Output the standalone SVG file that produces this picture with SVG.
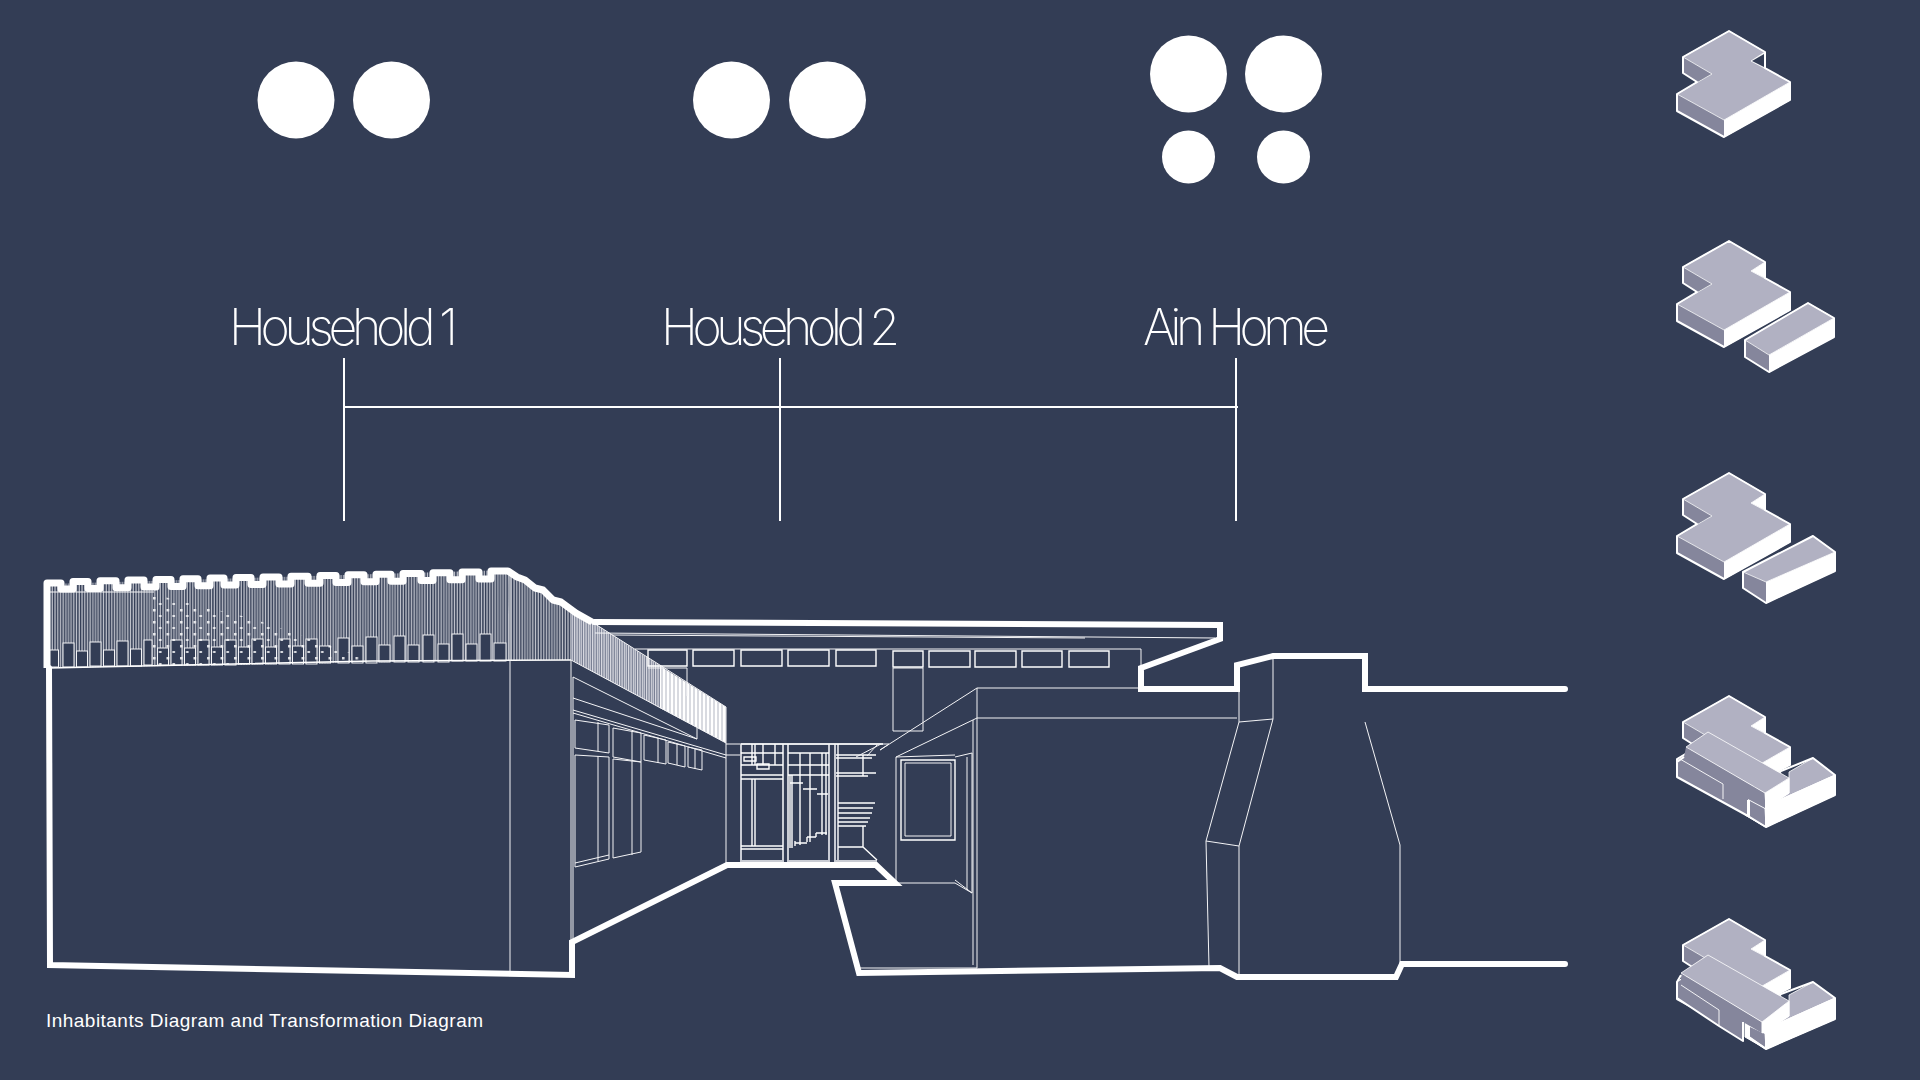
<svg xmlns="http://www.w3.org/2000/svg" width="1920" height="1080" viewBox="0 0 1920 1080">
<style>
.lbl{font-family:"Inter","Roboto","Liberation Sans",sans-serif;font-weight:200;font-size:50px;fill:#fff}
.cap{font-family:"Liberation Sans",Arial,sans-serif;font-size:19px;fill:#fff}
.thin{fill:none;stroke:#f4f4f6;stroke-width:1}
.mid{fill:none;stroke:#fff;stroke-width:1.4}
.grey{fill:none;stroke:#c9ccd4;stroke-width:2}
.tick{fill:none;stroke:#fff;stroke-width:2}
.heavy{fill:none;stroke:#fff;stroke-width:6;stroke-linejoin:miter;stroke-linecap:round}
.cren{fill:none;stroke:#fff;stroke-width:7;stroke-linejoin:round}
.win{fill:#333d55;stroke:#f4f4f6;stroke-width:1}
.top{fill:#b1b1c2;stroke:#fff;stroke-width:0.8}
.side{fill:#85869c}
.white{fill:#fff;stroke:#fff;stroke-width:1}
.edge{fill:none;stroke:#fff;stroke-width:2;stroke-linejoin:round}
</style>
<defs>
<pattern id="hatch" width="13.5" height="20" patternUnits="userSpaceOnUse">
<rect width="13.5" height="20" fill="#333d55"/>
<path d="M1 0V20M3.700 0V20M6.400 0V20M9.100 0V20M11.800 0V20" stroke="#d4d6dd" stroke-width="1.1"/>
</pattern>
<pattern id="hatch2" width="4.500" height="20" patternUnits="userSpaceOnUse">
<rect width="4.500" height="20" fill="#59617a"/>
<path d="M1 0V20M3.300 0V20" stroke="#f0f0f4" stroke-width="1.2"/>
</pattern>
<pattern id="hatch3" width="4" height="20" patternUnits="userSpaceOnUse">
<rect width="4" height="20" fill="#fff"/>
<path d="M2 0V20" stroke="#8e94a6" stroke-width="0.7"/>
</pattern>
<pattern id="dash" width="13.500" height="12" patternUnits="userSpaceOnUse" patternTransform="translate(152 596)">
<rect x="1" y="1" width="2.500" height="2.500" fill="#fff" opacity="0.85"/>
<rect x="7" y="7" width="2.500" height="2" fill="#fff" opacity="0.85"/>
</pattern>
<g id="base">
<polygon class="white" points="1724,120 1790,82 1790,100 1724,137"/>
<polygon class="white" points="1751,61 1765,52 1765,68"/>
<polygon class="side" points="1683,57 1712,74 1697,82 1683,73"/>
<polygon class="side" points="1677,94 1724,120 1724,137 1677,111"/>
<polygon class="top" points="1729,31 1765,52 1751,61 1790,82 1724,120 1677,94 1712,74 1683,57"/>
<polygon class="edge" points="1729,31 1765,52 1765,68 1790,82 1790,100 1724,137 1677,111 1677,94 1697,82 1683,73 1683,57"/>
</g>
</defs>

<rect width="1920" height="1080" fill="#333d55"/>

<g id="household-1-people">
<circle cx="296" cy="100" r="38.500" fill="#fff"/>
<circle cx="391.500" cy="100" r="38.500" fill="#fff"/>
</g>
<g id="household-2-people">
<circle cx="731.500" cy="100" r="38.500" fill="#fff"/>
<circle cx="827.500" cy="100" r="38.500" fill="#fff"/>
</g>
<g id="ain-home-people">
<circle cx="1188.500" cy="74" r="38.500" fill="#fff"/>
<circle cx="1283.500" cy="74" r="38.500" fill="#fff"/>
<circle cx="1188.500" cy="157" r="26.500" fill="#fff"/>
<circle cx="1283.500" cy="157" r="26.500" fill="#fff"/>
</g>

<g id="household-1"><text class="lbl" x="229" y="345" textLength="229" lengthAdjust="spacing">Household 1</text></g>
<g id="household-2"><text class="lbl" x="661" y="345" textLength="239" lengthAdjust="spacing">Household 2</text></g>
<g id="ain-home"><text class="lbl" x="1143" y="345" textLength="187" lengthAdjust="spacing">Ain Home</text></g>

<g id="connectors">
<path class="tick" d="M344 358V521M780 358V521M1236 358V521"/>
<path class="tick" d="M344 407H1238"/>
</g>

<g id="building">
<!-- screen band -->
<polygon fill="url(#hatch)" points="49,584 508,570 510,660 49,668"/>
<polygon fill="url(#hatch)" points="508,570 592,622 596,662 571,660 510,660"/>
<polygon fill="url(#hatch2)" points="571,610 592,622 664,668 664,710 571,660"/>
<polygon fill="url(#hatch3)" points="660,666 726,707 726,743 660,708"/>
<path class="thin" d="M592 622L726 707V743L571 660"/>
<path class="thin" d="M50 592H154"/>
<g>
<rect class="win" x="49.500" y="650" width="9" height="17"/>
<rect class="win" x="63" y="643" width="11" height="24"/>
<rect class="win" x="76.500" y="651" width="11" height="16"/>
<rect class="win" x="90" y="642" width="11" height="24"/>
<rect class="win" x="103.500" y="650" width="11" height="16"/>
<rect class="win" x="117" y="641" width="11" height="25"/>
<rect class="win" x="130.500" y="649" width="11" height="17"/>
<rect class="win" x="144" y="640" width="8" height="25"/>
<rect class="win" x="157.500" y="648" width="11" height="17"/>
<rect class="win" x="171" y="640" width="11" height="25"/>
<rect class="win" x="184.500" y="648" width="11" height="17"/>
<rect class="win" x="198" y="640" width="11" height="25"/>
<rect class="win" x="211.500" y="647" width="11" height="18"/>
<rect class="win" x="225" y="640" width="11" height="25"/>
<rect class="win" x="238.500" y="647" width="11" height="17"/>
<rect class="win" x="252" y="639" width="11" height="25"/>
<rect class="win" x="265.500" y="647" width="11" height="17"/>
<rect class="win" x="279" y="639" width="11" height="25"/>
<rect class="win" x="292.500" y="646" width="11" height="18"/>
<rect class="win" x="306" y="639" width="11" height="25"/>
<rect class="win" x="319.500" y="646" width="11" height="17"/>
<rect class="win" x="338" y="638" width="11" height="25"/>
<rect class="win" x="352" y="646" width="11" height="17"/>
<rect class="win" x="366" y="637" width="11" height="26"/>
<rect class="win" x="379" y="645" width="11" height="17"/>
<rect class="win" x="394" y="636" width="11" height="26"/>
<rect class="win" x="408" y="645" width="11" height="17"/>
<rect class="win" x="423" y="635" width="11" height="27"/>
<rect class="win" x="438" y="644" width="11" height="18"/>
<rect class="win" x="452" y="634" width="11" height="27"/>
<rect class="win" x="466" y="644" width="11" height="17"/>
<rect class="win" x="480" y="634" width="11" height="27"/>
<rect class="win" x="494" y="643" width="12" height="18"/>
</g>
<polygon fill="url(#dash)" points="152,594 250,618 320,642 372,661 152,666"/>
<path class="mid" d="M49 668L372 661L571 660"/>

<!-- wall and courtyard side -->
<path class="thin" d="M510 570V975M571 660V943M573 677V940"/>
<path class="thin" d="M726 743V863"/>
<path class="thin" d="M573 677L697 739M573 698L697 739V728M573 710L726 755M573 713L726 758"/>
<path class="thin" d="M575 720L609 725V753L575 748ZM575 755L609 757V859L575 867ZM575 863L609 855M598 722V751M598 756V861"/>
<path class="thin" d="M613 728L641 733V762L613 757ZM613 759L641 762V852L613 858ZM632 731V760M632 761V855"/>
<path class="thin" d="M644 735L666 740V764L644 760ZM658 738V763"/>
<path class="thin" d="M668 742L685 746V767L668 763ZM677 744V765"/>
<path class="thin" d="M688 747L702 750V770L688 767ZM695 749V769"/>

<!-- upper roof and clerestory -->
<path class="thin" d="M595 633L1215 638M612 635L1085 638M635 649H1141V668"/>
<path class="mid" d="M648 650H687V666H648ZM693 650H734V666H693ZM741 650H782V666H741ZM788 650H829V666H788ZM836 650H876V666H836ZM893 651H923V667H893ZM929 651H970V667H929ZM975 651H1016V667H975ZM1022 651H1062V667H1022ZM1069 651H1109V667H1069Z"/>
<path class="thin" d="M893 668H923V731H893ZM648 668H687V696"/>

<!-- back wall of the courtyard -->
<path class="thin" d="M726 744H889M726 755H741"/>
<path class="grey" d="M741 744V861H783V744M788 744V861H829V744M835 744V861H877"/>
<path class="mid" d="M741 744H883M741 753H783M741 765H783M741 775H783M741 779H783M741 846H783M741 849H783"/>
<path class="mid" d="M752 744V765M755 744V765M763 744V765M775 744V765M752 779V846M755 779V846"/>
<path class="mid" d="M788 753H829M788 765H829M788 775H829M790 775V848M792 775V848M800 753V845M810 753V842M822 753V835M826 753V835"/>
<path class="mid" d="M744 757H756V761H744ZM757 764H769V769H757Z"/>
<path class="mid" d="M790 783H803M803 789H817M817 794H828M795 843H807M807 837H816M816 833H827M795 846V841M807 842V837M816 837V833"/>
<path class="mid" d="M836 755H876M836 758H872M836 773H876M836 776H868M838 803H875M838 808H873M838 813H872M838 818H870M838 822H868M838 826H866M838 847H863M863 755V776M863 826V847M863 847L877 860M838 744V860"/>
<path class="thin" d="M856 757L881 744M867 756L877 745M880 750L889 744"/>

<!-- right-hand volume -->
<path class="thin" d="M977 688H1141M977 688L880 750M977 718H1237M977 718L896 757M977 688V968M973 720V965M896 757V883M896 883H955"/>
<path class="thin" d="M896 757L955 755M955 757L972 753M955 880L972 893L955 883M967 757V890M972 753V893"/>
<path class="mid" d="M901 760H955V840H901Z"/>
<path class="thin" d="M905 763H951V836H905Z"/>
<path class="thin" d="M860 968H977"/>

<!-- chimney -->
<path class="thin" d="M1239 665V722L1206 841L1209 967M1273 656V719L1239 846V976M1239 722L1273 719M1206 841L1239 846M1365 722L1400 845V964"/>

<!-- heavy outlines -->
<path class="heavy" d="M49 668L50 965L572 975V942L727 865H876L895 883H835L859 973L1220 968L1237 977L1396 977L1402 964H1565"/>
<path class="heavy" d="M594 622L1220 625V639L1141 668V689H1237V665L1273 656H1365V689H1565"/>
<path class="cren" d="M47 668V583H61V589H73V581.400H88V588.400H100V580.700H116V587.700H128V580H144V587H156V579.400H171V586.400H183V578.700H198V585.700H210V578H224V585H236V577.500H251V584.500H263V577H279V584H291V576.200H308V583.200H320V575.500H336V582.500H348V574.800H364V581.800H376V574.200H391V581.200H403V573.500H421V580.500H433V572.700H450V579.700H462V572H479V579H491V571H508L517 577L525 580L535 588L543 590L553 600L561 602L576 613L592 622"/>
</g>

<g id="caption"><text class="cap" x="46" y="1027" textLength="437" lengthAdjust="spacing">Inhabitants Diagram and Transformation Diagram</text></g>

<g id="massing-1">
<use href="#base"/>
<polygon points="1752,61 1764,54 1764,67" fill="#333d55"/>
</g>

<g id="massing-2">
<use href="#base" transform="translate(0 210)"/>
<polygon class="white" points="1769,355 1834,318 1834,337 1769,372"/>
<polygon class="side" points="1745,340 1769,355 1769,372 1745,357"/>
<polygon class="top" points="1808,303 1834,318 1769,355 1745,340"/>
<polygon class="edge" points="1808,303 1834,318 1834,337 1769,372 1745,357 1745,340"/>
</g>

<g id="massing-3">
<use href="#base" transform="translate(0 442)"/>
<polygon class="white" points="1766,582 1835,552 1835,571 1766,603"/>
<polygon class="side" points="1743,572 1766,582 1766,603 1743,588"/>
<polygon class="top" points="1813,536 1835,552 1766,582 1743,572"/>
<polygon class="edge" points="1813,536 1835,552 1835,571 1766,603 1743,588 1743,572"/>
</g>

<g id="massing-4">
<use href="#base" transform="translate(0 665)"/>
<polygon class="white" points="1745,790 1835,775 1835,795 1766,827 1745,815"/>
<polygon fill="#333d55" points="1780,771 1790,766 1790,769"/>
<polygon class="top" points="1789,772 1813,758 1835,775 1777,801 1789,793"/>
<polygon class="edge" points="1781,771 1813,758 1835,775 1835,795 1766,827 1748,816"/>
<polygon class="side" points="1686,747 1765,793 1765,808 1748,799 1748,816 1677,777 1677,762 1684,757"/>
<path class="thin" d="M1680 759L1723 784V799"/>
<polygon class="side" points="1750,801 1765,809 1765,826 1750,817"/>
<polygon class="white" points="1765,793 1789,778 1789,793 1777,801 1766,808"/>
<polygon class="white" points="1765,808 1777,801 1835,775 1835,795 1766,827"/>
<polygon class="top" points="1708,732 1789,778 1765,793 1686,747"/>
<path class="edge" d="M1677 762V777L1748 816V800M1748 816L1766 827M1677 762L1684 757"/>
</g>

<g id="massing-5">
<use href="#base" transform="translate(0 888)"/>
<polygon class="white" points="1745,1010 1835,998 1835,1019 1766,1049 1745,1037"/>
<polygon fill="#333d55" points="1780,994 1790,989 1790,992"/>
<polygon class="top" points="1789,995 1813,982 1835,998 1777,1024 1789,1016"/>
<polygon class="edge" points="1781,994 1813,982 1835,998 1835,1019 1766,1049 1749,1038"/>
<polygon class="side" points="1681,973 1762,1022 1762,1033 1743,1022 1743,1041 1719,1026 1677,998 1677,982 1681,980"/>
<path class="thin" d="M1681 985L1719 1010V1026"/>
<polygon class="side" points="1750,1027 1765,1034 1765,1047 1750,1037"/>
<polygon class="white" points="1762,1022 1789,1001 1789,1016 1777,1024 1766,1031 1762,1033"/>
<polygon class="white" points="1765,1033 1777,1024 1835,998 1835,1019 1766,1049"/>
<polygon class="top" points="1708,955 1789,1001 1762,1022 1681,973"/>
<path class="edge" d="M1677 982V998L1719 1026L1743 1041V1022M1749 1026V1037L1766 1049M1677 982L1681 975"/>
</g>
</svg>
